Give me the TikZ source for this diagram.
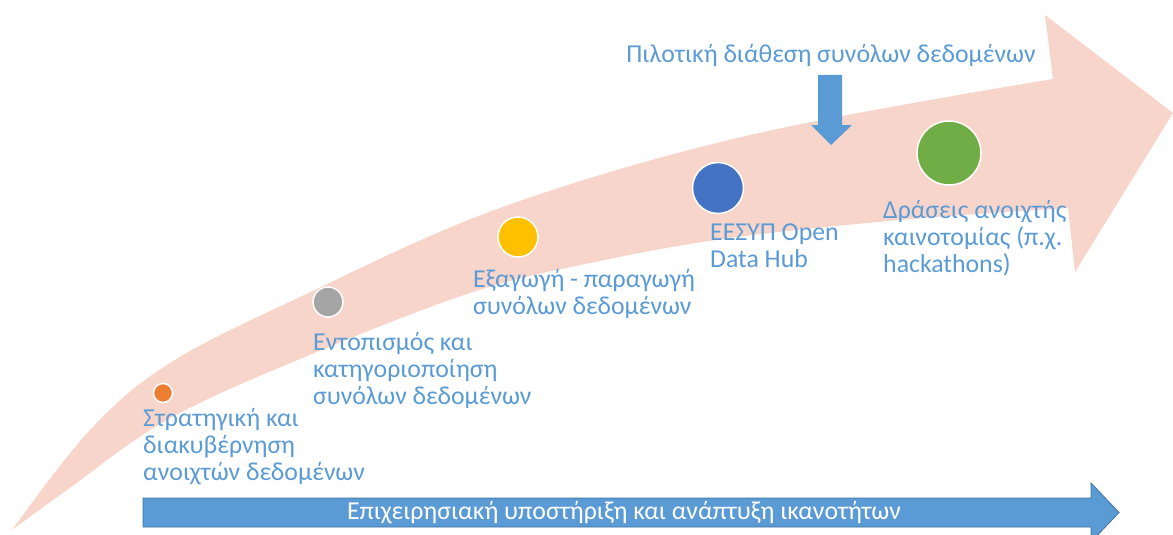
\documentclass[tikz,border=0pt]{standalone}
\usepackage{fontspec}
\setmainfont{Carlito}
\definecolor{pinkband}{HTML}{F8D5CA}
\definecolor{txtblue}{HTML}{5B9BD5}
\definecolor{arrowblue}{HTML}{5B9BD5}
\definecolor{arrowedge}{HTML}{41719C}
\definecolor{dotorange}{HTML}{ED7D31}
\definecolor{dotgray}{HTML}{A5A5A5}
\definecolor{dotyellow}{HTML}{FFC000}
\definecolor{dotblue}{HTML}{4472C4}
\definecolor{dotgreen}{HTML}{70AD47}
\tikzset{
  lbl/.style={text=txtblue, align=left, inner sep=0pt, font=\fontsize{25.8}{27}\selectfont},
  dot/.style={circle, draw=white, line width=1.5pt, inner sep=0pt},
}
\begin{document}
\begin{tikzpicture}[x=1pt,y=-1pt]
\useasboundingbox (0,0) rectangle (1173,535);
% big curved pink arrow
\fill[pinkband] (12,530) -- plot[smooth,tension=0.6] coordinates {(12,530) (90,430) (170,363) (300,297) (500,208) (750,135) (1053,79)}
  -- (1045,15) -- (1173,113) -- (1075,272) -- (1068,208)
  -- plot[smooth,tension=0.6] coordinates {(1068,208) (900,220) (730,238) (600,261) (473,292) (300,359) (167,420) (67,490) (12,530)} -- cycle;
% dots
\node[dot, fill=dotorange, minimum size=19pt] (c1) at (163,393) {};
\node[dot, fill=dotgray, minimum size=30pt] (c2) at (328,302) {};
\node[dot, fill=dotyellow, minimum size=40pt] (c3) at (518,237) {};
\node[dot, fill=dotblue, minimum size=51pt] (c4) at (718,188) {};
\node[dot, fill=dotgreen, minimum size=64pt] (c5) at (949,153) {};
% labels
\node[lbl, anchor=west] (t1) at (143,447) {Στρατηγική και\\διακυβέρνηση\\ανοιχτών δεδομένων};
\node[lbl, anchor=west] (t2) at (313,370) {Εντοπισμός και\\κατηγοριοποίηση\\συνόλων δεδομένων};
\node[lbl, anchor=west] (t3) at (473,294) {Εξαγωγή - παραγωγή\\συνόλων δεδομένων};
\node[lbl, anchor=west] (t4) at (710,246) {ΕΕΣΥΠ Open\\Data Hub};
\node[lbl, anchor=west] (t5) at (883,238) {Δράσεις ανοιχτής\\καινοτομίας (π.χ.\\hackathons)};
% pilot label and down arrow
\node[lbl] (pt) at (831,55) {Πιλοτική διάθεση συνόλων δεδομένων};
\fill[arrowblue] (818,75) -- (842,75) -- (842,125) -- (852,125) -- (831,145) -- (811,125) -- (818,125) -- cycle;
% bottom arrow
\filldraw[fill=arrowblue, draw=arrowedge, line width=0.8pt] (143,498) -- (1091,498) -- (1091,483) -- (1119,512.5) -- (1091,542) -- (1091,527) -- (143,527) -- cycle;
\node[lbl, text=white] (bt) at (624,512.5) {Επιχειρησιακή υποστήριξη και ανάπτυξη ικανοτήτων};
\end{tikzpicture}
\end{document}
